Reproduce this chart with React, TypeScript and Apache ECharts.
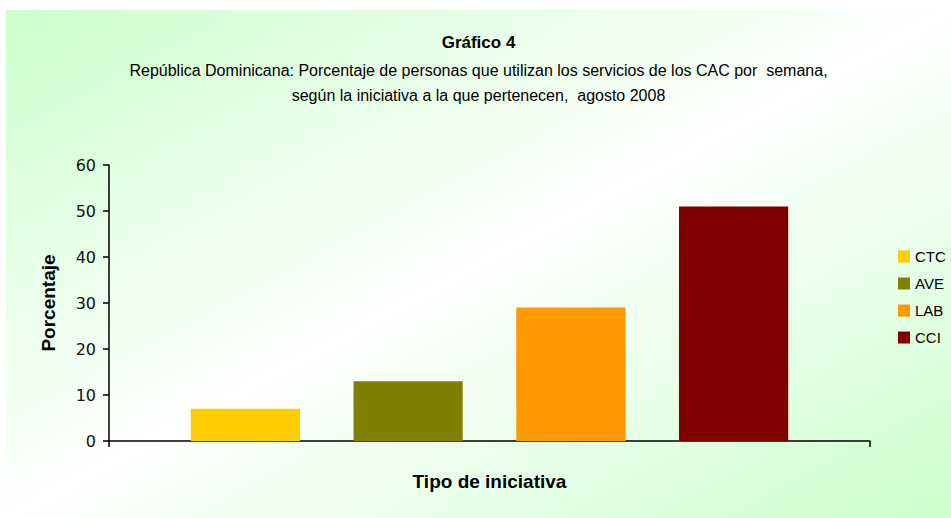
import React, { useEffect, useRef } from "react";
import * as echarts from "echarts";

const categories: string[] = [""];
const seriesNames: string[] = ["CTC", "AVE", "LAB", "CCI"];
const seriesValues: number[] = [7, 13, 29, 51];
const seriesColors: string[] = ["#FFCC00", "#808000", "#FF9900", "#800000"];
const yMin = 0;
const yMax = 60;
const yInterval = 10;

const titleText = "Gráfico 4";
const subtitleText =
  "República Dominicana: Porcentaje de personas que utilizan los servicios de los CAC por  semana,\nsegún la iniciativa a la que pertenecen,  agosto 2008";
const yAxisName = "Porcentaje";
const xAxisName = "Tipo de iniciativa";

export default function App() {
  const ref = useRef<HTMLDivElement>(null);
  useEffect(() => {
    if (!ref.current) return;
    const chart = echarts.init(ref.current, null, { renderer: "svg" });
    const sans = "'Liberation Sans', Arial, sans-serif";
    chart.setOption({
      animation: false,
      backgroundColor: "transparent",
      title: {
        text: titleText,
        subtext: subtitleText,
        left: "center",
        top: 17,
        itemGap: 6,
        textStyle: {
          fontFamily: sans,
          fontSize: 17,
          fontWeight: "bold",
          color: "#000",
          lineHeight: 20,
        },
        subtextStyle: {
          fontFamily: sans,
          fontSize: 16,
          color: "#000",
          lineHeight: 25,
          align: "center",
        },
      },
      legend: {
        orient: "vertical",
        left: 892,
        top: 239,
        padding: 0,
        itemWidth: 12,
        itemHeight: 12,
        itemGap: 12,
        icon: "rect",
        textStyle: { fontFamily: sans, fontSize: 15, color: "#000", lineHeight: 14 },
        data: seriesNames,
      },
      grid: { left: 103, right: 81, top: 155, bottom: 77 },
      xAxis: {
        type: "category",
        data: categories,
        name: xAxisName,
        nameLocation: "middle",
        nameGap: 31,
        nameTextStyle: { fontFamily: sans, fontSize: 19, fontWeight: "bold", color: "#000" },
        axisLine: { lineStyle: { color: "#000", width: 1.5 } },
        axisTick: { show: true, length: 6, lineStyle: { color: "#000", width: 1.5 } },
        axisLabel: { show: false },
      },
      yAxis: {
        type: "value",
        min: yMin,
        max: yMax,
        interval: yInterval,
        name: yAxisName,
        nameLocation: "middle",
        nameGap: 51,
        nameTextStyle: { fontFamily: sans, fontSize: 19, fontWeight: "bold", color: "#000" },
        axisLine: { show: true, lineStyle: { color: "#000", width: 1.5 } },
        axisTick: { show: true, length: 6, lineStyle: { color: "#000", width: 1.5 } },
        axisLabel: { fontFamily: "'DejaVu Sans', sans-serif", fontSize: 16, color: "#111", margin: 13 },
        splitLine: { show: false },
      },
      series: seriesNames.map((name, i) => ({
        type: "bar",
        name,
        data: [seriesValues[i]],
        itemStyle: { color: seriesColors[i] },
        barGap: "49%",
        barCategoryGap: "21.5%",
      })),
    });
    return () => chart.dispose();
  }, []);
  return (
    <div
      ref={ref}
      style={{
        position: "absolute",
        left: 6,
        top: 10,
        width: 945,
        height: 508,
        background: "linear-gradient(to bottom right, #ccffcc 0%, #ffffff 50%, #ccffcc 100%)",
      }}
    />
  );
}
